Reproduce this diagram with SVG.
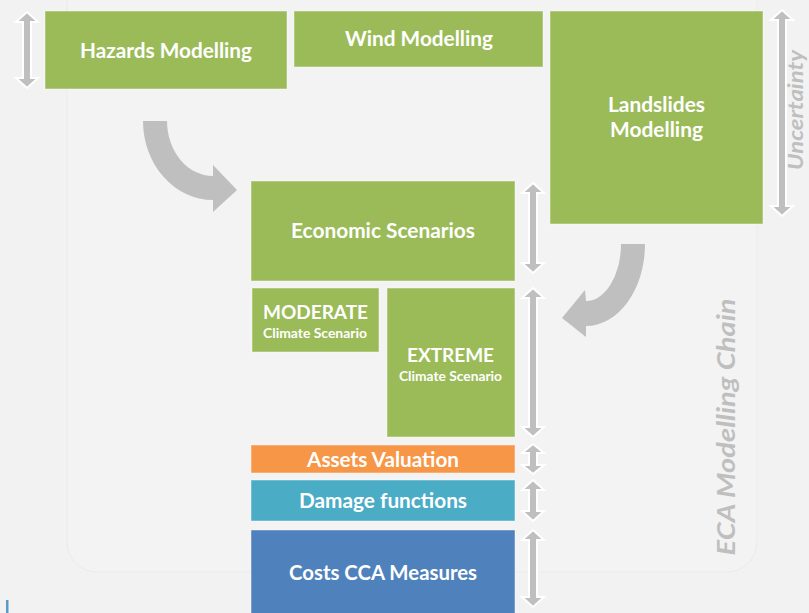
<svg xmlns="http://www.w3.org/2000/svg" width="809" height="613" viewBox="0 0 809 613">
<defs>
<style>
.box{stroke:#ffffff;stroke-opacity:0.45;stroke-width:1}
.g{fill:#9bbb59}
.t{font-family:Lato,"Open Sans","Liberation Sans",sans-serif;font-weight:bold;fill:#ffffff;text-anchor:middle}
.big{font-size:21px}
.small{font-size:13px}
.dbl{fill:#bfbfbf;stroke:#ffffff;stroke-width:2;stroke-linejoin:miter}
.curve{fill:#bfbfbf}
.side{font-family:Lato,"Open Sans","Liberation Sans",sans-serif;font-weight:bold;font-style:italic;fill:#bfbfbf;text-anchor:middle}
</style>
</defs>
<rect x="0" y="0" width="809" height="613" fill="#f2f2f2"/>
<rect x="67" y="-40" width="690" height="612" rx="30" fill="#f3f3f3" stroke="#ebebeb" stroke-width="1"/>
<rect x="6" y="600" width="2.5" height="13" fill="#5b9bc7"/>

<g id="connectors">
<polygon class="dbl" points="27,12 38,22 31,22 31,78 38,78 27,88 16,78 23,78 23,22 16,22"/>
<polygon class="dbl" points="782,10 793,20 786,20 786,206 793,206 782,216 771,206 778,206 778,20 771,20"/>
<polygon class="dbl" points="533,183 544,193 537,193 537,263 544,263 533,273 522,263 529,263 529,193 522,193"/>
<polygon class="dbl" points="533,288 544,298 537,298 537,427 544,427 533,437 522,427 529,427 529,298 522,298"/>
<polygon class="dbl" points="533,444 544,453 537,453 537,465 544,465 533,474 522,465 529,465 529,453 522,453"/>
<polygon class="dbl" points="533,480 544,490 537,490 537,511 544,511 533,521 522,511 529,511 529,490 522,490"/>
<polygon class="dbl" points="533,530 544,540 537,540 537,597 544,597 533,607 522,597 529,597 529,540 522,540"/>
<path class="curve" d="M143,121 A70,79 0 0 0 213,200 L213,212 L237,190 L213,165 L213,176 A46,55 0 0 1 167,121 Z"/>
<path class="curve" d="M645,244 A59,82 0 0 1 586,326 L586,337 L562,318 L585,290 L586,301 A35,57 0 0 0 621,244 Z"/>
</g>

<g id="hazards">
<rect class="box g" x="45" y="11" width="242" height="78"/>
<text class="t big" x="166" y="58" textLength="172" lengthAdjust="spacingAndGlyphs">Hazards Modelling</text>
</g>
<g id="wind">
<rect class="box g" x="294" y="11" width="249" height="56"/>
<text class="t big" x="419" y="46" textLength="148" lengthAdjust="spacingAndGlyphs">Wind Modelling</text>
</g>
<g id="landslides">
<rect class="box g" x="550" y="11" width="213" height="213"/>
<text class="t big" x="656.5" y="112" textLength="97" lengthAdjust="spacingAndGlyphs">Landslides</text>
<text class="t big" x="656.5" y="137" textLength="93" lengthAdjust="spacingAndGlyphs">Modelling</text>
</g>
<g id="economic">
<rect class="box g" x="251" y="181" width="264" height="100"/>
<text class="t big" x="383" y="238" textLength="184" lengthAdjust="spacingAndGlyphs">Economic Scenarios</text>
</g>
<g id="moderate">
<rect class="box g" x="252" y="288" width="127" height="64"/>
<text class="t" x="315.5" y="319" font-size="19.5" textLength="105" lengthAdjust="spacingAndGlyphs">MODERATE</text>
<text class="t small" x="315" y="338" textLength="104" lengthAdjust="spacingAndGlyphs">Climate Scenario</text>
</g>
<g id="extreme">
<rect class="box g" x="387" y="288" width="128" height="149"/>
<text class="t" x="450.5" y="362" font-size="19.5" textLength="87" lengthAdjust="spacingAndGlyphs">EXTREME</text>
<text class="t small" x="450.5" y="381" textLength="103" lengthAdjust="spacingAndGlyphs">Climate Scenario</text>
</g>
<g id="assets">
<rect class="box" x="251" y="445" width="264" height="28" fill="#f79646"/>
<text class="t big" x="383" y="467" textLength="152" lengthAdjust="spacingAndGlyphs">Assets Valuation</text>
</g>
<g id="damage">
<rect class="box" x="251" y="480" width="264" height="41" fill="#4bacc6"/>
<text class="t big" x="383" y="508" textLength="168" lengthAdjust="spacingAndGlyphs">Damage functions</text>
</g>
<g id="costs">
<rect class="box" x="251" y="530" width="264" height="90" fill="#4f81bd"/>
<text class="t big" x="383" y="580" textLength="188" lengthAdjust="spacingAndGlyphs">Costs CCA Measures</text>
</g>
<g id="uncertainty-label">
<text class="side" font-size="21" transform="translate(803,110) rotate(-90)" textLength="120" lengthAdjust="spacingAndGlyphs">Uncertainty</text>
</g>
<g id="chain-label">
<text class="side" font-size="24" transform="translate(735,427) rotate(-90)" textLength="257" lengthAdjust="spacingAndGlyphs">ECA Modelling Chain</text>
</g>
</svg>
